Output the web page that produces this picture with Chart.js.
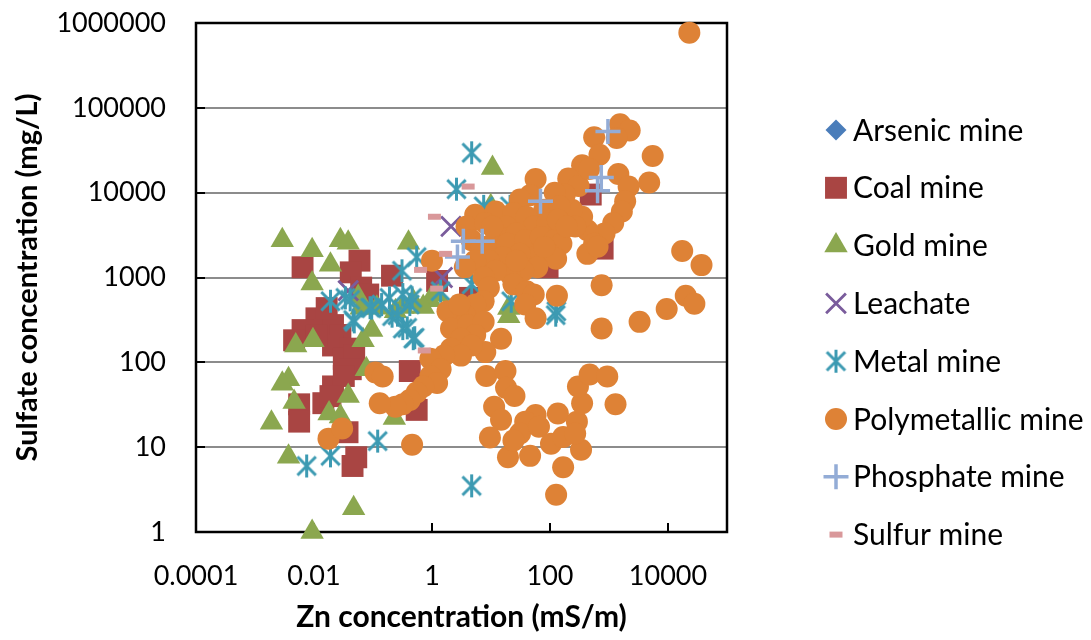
<!DOCTYPE html>
<html>
<head>
<meta charset="utf-8">
<title>Sulfate vs Zn concentration</title>
<script src="https://cdn.jsdelivr.net/npm/chart.js@4.4.1/dist/chart.umd.min.js"></script>
<style>
  html, body { margin: 0; padding: 0; background: #ffffff; }
  #wrap { width: 1091px; height: 640px; }
</style>
</head>
<body>
<div id="wrap"><canvas id="chart" width="1091" height="640"></canvas></div>
<script>
// ---- data: [Zn (mS/m), sulfate (mg/L)] ----
const arsenicMine = [];

const coalMine = [
  [0.0064,1320],[0.059,1580],[0.042,1150],[0.21,1050],[1.22,910],[0.063,760],[0.083,630],
  [0.011,330],[0.0064,240],[0.0046,182],[0.021,275],[0.028,210],[0.021,158],[0.042,145],
  [0.032,110],[0.048,120],[0.042,83],[0.42,79],[0.021,52],[0.0144,33],[0.0056,32],[0.0056,20],
  [0.037,15],[0.052,7.6],[0.045,6],[0.55,27.5],[4.4,575],[91,1320],[780,2190],[490,9500],
  [0.0164,436],[0.011,209],[0.032,69],[0.019,40]
];

const goldMine = [
  [0.0029,2750],[0.0093,2090],[0.028,2750],[0.038,2570],[0.019,1410],[0.0093,850],[0.4,2570],
  [10.6,19500],[9.9,6900],[0.93,540],[1.22,630],[0.063,440],[0.116,440],[0.24,400],[0.48,525],
  [0.095,240],[0.068,182],[0.0096,182],[0.0049,158],[0.0037,63],[0.0029,56],[0.0046,34],
  [0.038,40],[0.018,25],[0.0019,19.4],[0.23,22],[0.0037,7.7],[0.047,1.9],[0.0093,1.0],
  [20,436],[20,350],[0.077,83],[0.028,23],[0.056,590],[0.71,450],[0.32,450]
];

const leachate = [[0.038,700],[2.1,4000],[1.5,1000]];

const metalMine = [
  [4.7,29500],[2.6,11000],[0.55,1740],[0.31,1200],[0.019,525],[0.034,575],[0.095,436],
  [0.19,575],[0.32,630],[0.42,480],[0.21,350],[0.32,250],[0.48,190],[0.048,300],[1.4,690],
  [128,400],[125,360],[0.12,11.8],[0.019,7.9],[0.0075,6],[4.7,3.5],[7.5,6900],[21,6900],
  [4.7,830],[0.14,480],[0.041,545],[0.089,440],[0.46,575],[0.26,360],[0.046,316],[0.38,255],
  [0.51,195],[22,525]
];

const polymetallicMine = [
  [23000,770000],[1540,64000],[2240,54000],[1350,44000],[560,45000],[5500,27000],[690,28000],
  [350,21000],[1440,16600],[4800,13200],[2150,11800],[57,14500],[204,14700],[305,12000],
  [460,19000],[1880,7900],[1650,6000],[1180,4400],[840,3300],[430,3600],[560,2500],[430,1900],
  [640,2300],[350,5200],[235,6300],[178,9500],[120,10000],[46,9300],[31,8300],[80,6300],
  [146,6900],[5.4,5500],[3.85,4000],[12,6000],[24,5750],[40,5200],[18,4000],[8,4400],[53,4000],
  [91,4400],[13.8,3000],[27,3300],[4.7,2750],[7,2300],[10.6,2500],[19,2500],[38,2750],[70,3000],
  [119,2750],[156,2500],[97,1900],[53,1740],[31,1900],[15.8,1740],[9.2,1580],[5.4,1580],
  [3.6,1320],[127,1660],[61,1320],[35,1200],[21,1100],[12,1200],[7.5,1000],[24,830],[40,690],
  [53,630],[9.2,760],[7.5,525],[5.4,480],[38,480],[57,330],[14.8,190],[8,132],[131,610],
  [750,810],[17400,2050],[37000,1400],[20000,610],[28000,490],[9500,425],[3300,300],[750,250],
  [3.6,360],[2.75,400],[1.83,400],[2.1,250],[4.1,275],[7.5,300],[5.4,210],[3.1,190],[2.1,145],
  [4.7,158],[3.1,120],[1.6,120],[0.94,110],[1.4,83],[0.94,69],[1.22,57],[0.71,52],[0.55,44],
  [0.42,36],[0.32,32],[0.24,30],[0.13,33],[0.11,76],[0.146,68],[1.0,1580],[0.46,10.7],
  [0.0176,12.6],[0.03,16.6],[2.9,480],[8.3,69],[17.6,79],[18,50],[25,40],[11.3,30],[14.8,21],
  [9.6,13],[19.4,7.6],[46,7.9],[57,24],[38,20],[31,14.5],[65,17.4],[136,25],[104,11],
  [167,13.2],[167,5.8],[127,2.75],[286,20],[336,9.3],[350,33],[298,52],[470,72],[935,68],
  [1290,32],[24,12],[267,14.5],[27,1580],[80,2290],[10.5,4000],[136,4800],[267,4000],[191,4000]
];

const phosphateMine = [[960,52500],[740,15100],[640,10500],[69,7900],[7.1,2680],[3.4,2680],[2.7,1740]];

const sulfurMine = [[4.1,11800],[1.1,5200],[1.7,1900],[0.64,1230],[1.2,740],[0.74,138]];

const seriesNames = ['Arsenic mine','Coal mine','Gold mine','Leachate','Metal mine',
                     'Polymetallic mine','Phosphate mine','Sulfur mine'];

// ---- axes ----
const xTickValues = [0.0001, 0.01, 1, 100, 10000];
const xTickLabels = ['0.0001', '0.01', '1', '100', '10000'];
const yTickValues = [1, 10, 100, 1000, 10000, 100000, 1000000];
const yTickLabels = ['1', '10', '100', '1000', '10000', '100000', '1000000'];
const xTitle = 'Zn concentration (mS/m)';
const yTitle = 'Sulfate concentration (mg/L)';

const FONT = 'Lato, "Open Sans", sans-serif';

// asterisk marker (X with a vertical stroke)
function makeAsterisk(size, color, lw) {
  const c = document.createElement('canvas');
  c.width = size; c.height = size;
  const g = c.getContext('2d');
  g.strokeStyle = color; g.lineWidth = lw;
  const m = size / 2, a = size / 2 - 1;
  const d = a * 0.8;
  g.beginPath();
  g.moveTo(m, m - a); g.lineTo(m, m + a);
  g.moveTo(m - d, m - d); g.lineTo(m + d, m + d);
  g.moveTo(m + d, m - d); g.lineTo(m - d, m + d);
  g.stroke();
  return c;
}

const toXY = arr => arr.map(p => ({ x: p[0], y: p[1] }));

const styles = [
  { pointStyle: 'rectRot',  color: '#4A7DBA', radius: 10.5, bw: 0 },
  { pointStyle: 'rect',     color: '#A94543', radius: 15.5, bw: 0 },
  { pointStyle: 'triangle', color: '#8BA74F', radius: 13.5, bw: 0 },
  { pointStyle: 'crossRot', color: '#7A5C9C', radius: 14,   bw: 2.8 },
  { pointStyle: makeAsterisk(25, '#3C9AB2', 3), color: '#3C9AB2', radius: 12.5, bw: 0 },
  { pointStyle: 'circle',   color: '#DE8236', radius: 11,   bw: 0 },
  { pointStyle: 'cross',    color: '#93ACD6', radius: 12.5, bw: 3.5 },
  { pointStyle: 'line',     color: '#D9989A', radius: 6.5,  bw: 6 }
];
const seriesData = [arsenicMine, coalMine, goldMine, leachate, metalMine,
                    polymetallicMine, phosphateMine, sulfurMine];

const datasets = seriesNames.map((name, i) => ({
  label: name,
  data: toXY(seriesData[i]),
  pointStyle: styles[i].pointStyle,
  pointRadius: styles[i].radius,
  pointHoverRadius: styles[i].radius,
  backgroundColor: styles[i].color,
  borderColor: styles[i].color,
  pointBorderWidth: styles[i].bw,
  borderWidth: styles[i].bw,
  showLine: false,
  clip: false,
  order: seriesNames.length - i   // later series drawn on top
}));

// plot frame and inward tick marks
const framePlugin = {
  id: 'frame',
  beforeDatasetsDraw(chart) {
    const { ctx, chartArea: a, scales } = chart;
    ctx.save();
    ctx.strokeStyle = '#000';
    ctx.lineWidth = 2.5;
    ctx.strokeRect(a.left, a.top, a.right - a.left, a.bottom - a.top);
    ctx.lineWidth = 2;
    ctx.beginPath();
    xTickValues.forEach(v => {
      const px = Math.round(scales.x.getPixelForValue(v));
      ctx.moveTo(px, a.bottom); ctx.lineTo(px, a.bottom - 9);
    });
    yTickValues.forEach(v => {
      const py = Math.round(scales.y.getPixelForValue(v));
      ctx.moveTo(a.left, py); ctx.lineTo(a.left + 9, py);
    });
    ctx.stroke();
    ctx.restore();
  }
};

// legend column on the right
const sideLegend = {
  id: 'sideLegend',
  afterDraw(chart) {
    const ctx = chart.ctx;
    const top = 130, step = 57.8, mx = 836, tx = 853;
    chart.data.datasets.forEach((ds, i) => {
      const y = top + i * step;
      ctx.save();
      ctx.fillStyle = ds.backgroundColor;
      ctx.strokeStyle = ds.borderColor;
      ctx.lineWidth = ds.pointBorderWidth;
      Chart.helpers.drawPoint(ctx, {
        pointStyle: ds.pointStyle, radius: ds.pointRadius,
        borderWidth: ds.pointBorderWidth, rotation: 0
      }, mx, y);
      ctx.fillStyle = '#000';
      ctx.font = '30px ' + FONT;
      ctx.textAlign = 'left';
      ctx.textBaseline = 'middle';
      ctx.fillText(ds.label, tx, y + 1);
      ctx.restore();
    });
  }
};

new Chart(document.getElementById('chart'), {
  type: 'scatter',
  data: { datasets },
  plugins: [framePlugin, sideLegend],
  options: {
    responsive: false,
    animation: false,
    devicePixelRatio: 1,
    layout: { padding: { top: 23, right: 364, bottom: 0, left: 0 } },
    plugins: { legend: { display: false }, tooltip: { enabled: false } },
    scales: {
      x: {
        type: 'logarithmic',
        position: 'bottom',
        min: 0.0001, max: 100000,
        afterBuildTicks: s => { s.ticks = xTickValues.map(v => ({ value: v })); },
        afterFit: s => { s.height = 108; s.paddingLeft = 0; s.paddingRight = 0; },
        grid: { display: false, drawTicks: false },
        border: { display: false },
        ticks: {
          autoSkip: false, maxRotation: 0, padding: 28, color: '#000',
          font: { family: FONT, size: 27 },
          callback: (v, i) => xTickLabels[i]
        },
        title: {
          display: true, text: xTitle, color: '#000',
          font: { family: FONT, size: 30, weight: 'bold' },
          padding: { top: 0, bottom: 5 }
        }
      },
      y: {
        type: 'logarithmic',
        position: 'left',
        min: 1, max: 1000000,
        afterBuildTicks: s => { s.ticks = yTickValues.map(v => ({ value: v })); },
        afterFit: s => { s.width = 196; s.paddingTop = 0; s.paddingBottom = 0; },
        grid: { color: '#8C8C8C', lineWidth: 2, drawTicks: false },
        border: { display: false },
        ticks: {
          autoSkip: false, padding: 30, color: '#000',
          font: { family: FONT, size: 27 },
          callback: (v, i) => yTickLabels[i]
        },
        title: {
          display: true, text: yTitle, color: '#000',
          font: { family: FONT, size: 29, weight: 'bold' },
          padding: { top: 10, bottom: 0 }
        }
      }
    }
  }
});
</script>
</body>
</html>
